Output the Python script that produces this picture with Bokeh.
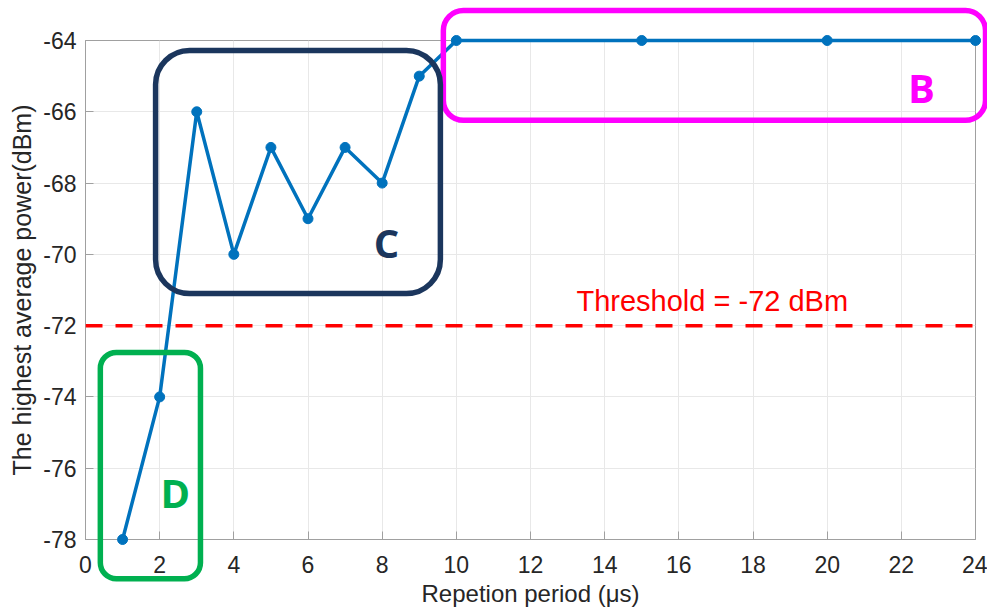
from bokeh.plotting import figure
from bokeh.models import Label, Span, FixedTicker, PrintfTickFormatter
from bokeh.embed import file_html
from bokeh.resources import INLINE

# data
period_us = [1, 2, 3, 4, 5, 6, 7, 8, 9, 10, 15, 20, 24]
power_dbm = [-78, -74, -66, -70, -67, -69, -67, -68, -65, -64, -64, -64, -64]
threshold = -72
x_ticks = list(range(0, 25, 2))
y_ticks = list(range(-78, -63, 2))

# highlighted regions (annotation boxes): name, left, right, top, bottom
region_names = ["B", "C", "D"]
region_left = [9.65, 1.89, 0.40]
region_right = [24.27, 9.57, 3.10]
region_top = [-63.16, -64.28, -72.75]
region_bottom = [-66.24, -71.10, -79.10]
region_colors = ["#ff00ff", "#1b365d", "#00b050"]
region_label_x = [22.18, 7.77, 2.02]
region_label_y = [-65.32, -69.67, -76.68]

p = figure(width=987, height=609, output_backend="svg", toolbar_location=None,
           x_range=(0, 24), y_range=(-78, -64),
           min_border_left=85, min_border_right=12, min_border_top=40, min_border_bottom=70)

font = "Liberation Sans"
p.xaxis.ticker = FixedTicker(ticks=x_ticks)
p.yaxis.ticker = FixedTicker(ticks=y_ticks)
p.yaxis.formatter = PrintfTickFormatter(format="%d")
p.xaxis.formatter = PrintfTickFormatter(format="%d")
for ax in (p.xaxis[0], p.yaxis[0]):
    ax.major_label_text_font = font
    ax.major_label_text_font_size = "23px"
    ax.major_label_text_color = "#262626"
    ax.axis_label_text_font = font
    ax.axis_label_text_font_style = "normal"
    ax.axis_label_text_color = "#262626"
    ax.axis_line_color = "#a0a0a0"
    ax.major_tick_line_color = "#a0a0a0"
    ax.major_tick_in = 8
    ax.major_tick_out = 0
    ax.minor_tick_line_color = None
    ax.axis_label_standoff = 4
p.xaxis.axis_label = "Repetion period (μs)"
p.yaxis.axis_label = "The highest average power(dBm)"
p.xaxis.axis_label_text_font_size = "24px"
p.yaxis.axis_label_text_font_size = "25px"
p.xaxis.major_label_standoff = 16
p.yaxis.major_label_standoff = 9

p.outline_line_color = "#a0a0a0"
p.grid.grid_line_color = "#e8e8e8"
p.xgrid.ticker = FixedTicker(ticks=x_ticks)
p.ygrid.ticker = FixedTicker(ticks=y_ticks)

# threshold
p.add_layout(Span(location=threshold, dimension="width", line_color="#ff0000",
                  line_width=3.5, line_dash="17 13"))
p.add_layout(Label(x=13.24, y=-71.3, text="Threshold = -72 dBm", text_color="#ff0000",
                   text_font=font, text_font_size="29px", text_baseline="alphabetic"))

# data line (overlay level so points on the frame edge are not cut)
p.line(period_us, power_dbm, line_color="#0072BD", line_width=3.5, level="overlay")
p.scatter(period_us, power_dbm, marker="circle", size=10, fill_color="#0072BD",
          line_color="#0072BD", level="overlay")

# annotation boxes
radii = [20, 34, 16]
for i in range(3):
    p.quad(left=[region_left[i]], right=[region_right[i]], top=[region_top[i]],
           bottom=[region_bottom[i]], fill_alpha=0, line_color=region_colors[i],
           line_width=5.5, border_radius=radii[i], level="overlay")
    p.add_layout(Label(x=region_label_x[i], y=region_label_y[i], text=region_names[i],
                       text_color=region_colors[i], text_font="Open Sans",
                       text_font_style="bold", text_font_size="40px",
                       text_baseline="alphabetic"))

open("out.html", "w").write(file_html(p, INLINE))
